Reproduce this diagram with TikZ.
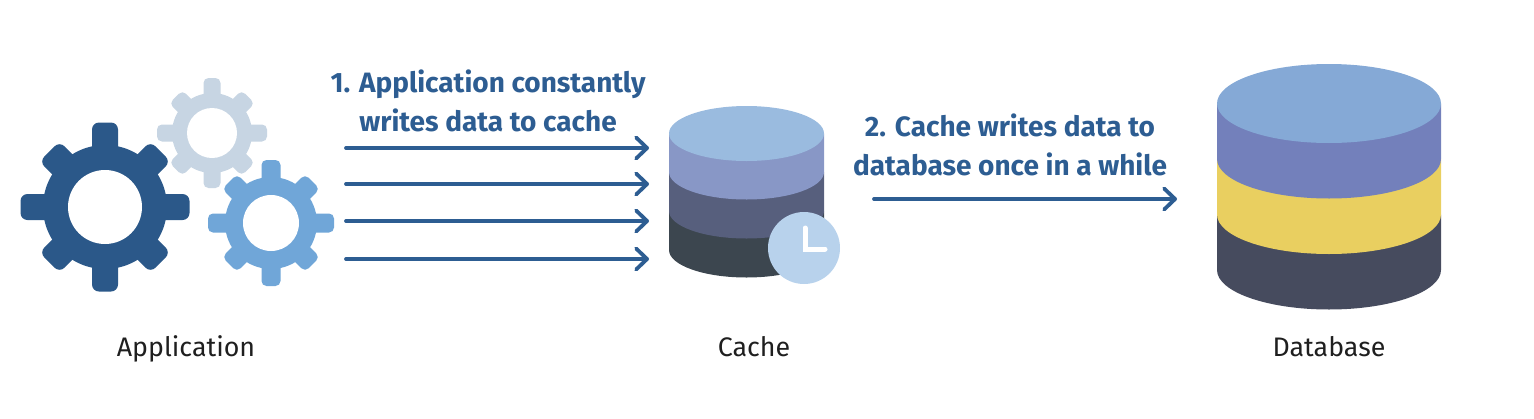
\documentclass[tikz,border=0pt]{standalone}
\usepackage{fontspec}
\setmainfont{Fira Sans}
\usetikzlibrary{arrows.meta}
\definecolor{arrowblue}{HTML}{2D5D92}
\definecolor{geardark}{HTML}{2B5889}
\definecolor{geargray}{HTML}{C7D5E3}
\definecolor{gearblue}{HTML}{70A6D8}
\definecolor{cacheA}{HTML}{9ABBDF}
\definecolor{cacheB}{HTML}{8897C6}
\definecolor{cacheC}{HTML}{575F7D}
\definecolor{cacheD}{HTML}{3C464F}
\definecolor{clockface}{HTML}{B8D2EC}
\definecolor{dbA}{HTML}{85A9D6}
\definecolor{dbB}{HTML}{7380BB}
\definecolor{dbC}{HTML}{E9CF60}
\definecolor{dbD}{HTML}{464B5E}
\tikzset{
  flow/.style={draw=arrowblue,line width=3.8pt,line cap=round,-{Straight Barb[length=11pt,width=21pt,line cap=round,round]}},
  steplabel/.style={text=arrowblue,font=\fontsize{28}{39}\selectfont\bfseries,align=center,inner sep=0pt},
  partlabel/.style={text=black!88,anchor=base,font=\fontsize{26.8}{30}\selectfont,inner sep=0pt},
  pics/gear/.style n args={6}{code={% body, hole, tooth out, tooth width, corner, colour
    \fill[white] (0,0) circle[radius=#1+1.5];
    \foreach \a in {45,135,225,315}{
      \fill[white,rotate=\a,rounded corners=#5] (-#4*0.55-1.5,0) rectangle (#4*0.55+1.5,#3*0.93+1.5);
    }
    \foreach \a in {0,90,180,270}{
      \fill[white,rotate=\a,rounded corners=#5] (-#4/2-1.5,0) rectangle (#4/2+1.5,#3+1.5);
    }
    \foreach \a in {45,135,225,315}{
      \fill[#6,rotate=\a,rounded corners=#5] (-#4*0.55,0) rectangle (#4*0.55,#3*0.93);
    }
    \foreach \a in {0,90,180,270}{
      \fill[#6,rotate=\a,rounded corners=#5] (-#4/2,0) rectangle (#4/2,#3);
    }
    \fill[#6] (0,0) circle[radius=#1];
    \fill[white] (0,0) circle[radius=#2];
  }}
}
% cylinder slice: cx, rx, ry, centre y of its top, height, colour
\newcommand{\dbslice}[6]{%
  \fill[#6] (#1-#2,#4) -- (#1-#2,#4+#5) arc[start angle=180,end angle=0,x radius=#2,y radius=#3]
     -- (#1+#2,#4) -- cycle;
}
\begin{document}
\begin{tikzpicture}[x=1pt,y=-1pt]
\useasboundingbox (0,0) rectangle (1534,418);
\pic at (212,133) {gear={40}{25}{55}{17}{5}{geargray}};
\pic at (105,207) {gear={62}{37}{84.5}{26}{7}{geardark}};
\pic at (271,223) {gear={46}{28}{63}{19}{5}{gearblue}};
\node[partlabel] (app) at (186,356) {Application};
% cache
\dbslice{746.5}{77.5}{27.5}{211}{39}{cacheD}
\dbslice{746.5}{77.5}{27.5}{172}{39}{cacheC}
\dbslice{746.5}{77.5}{27.5}{133.5}{38.5}{cacheB}
\fill[cacheA] (746.5,133.5) ellipse[x radius=77.5,y radius=27.5];
\node[circle,fill=clockface,minimum size=72pt,inner sep=0pt] (clock) at (804,248) {};
\draw[white,line width=5pt,line cap=round] (805,228) -- (805,249) -- (825,249);
\node[partlabel] (cache) at (754,356) {Cache};
% database
\dbslice{1329}{112}{39.5}{214.5}{55.5}{dbD}
\dbslice{1329}{112}{39.5}{159}{55.5}{dbC}
\dbslice{1329}{112}{39.5}{103.5}{55.5}{dbB}
\fill[dbA] (1329,103.5) ellipse[x radius=112,y radius=39.5];
\node[partlabel] (db) at (1329,356) {Database};
% labels
\node[steplabel] (one) at (488,100.5) {1. Application constantly\\writes data to cache};
\node[steplabel] (two) at (1010,144.5) {2. Cache writes data to\\database once in a while};
% connectors
\foreach \n/\y in {a/148,b/184,c/221,d/259}{
  \coordinate (\n s) at (346,\y);
  \coordinate (\n e) at (649,\y);
  \draw[flow] (\n s) -- (\n e);
}
\coordinate (es) at (874,199);
\coordinate (ee) at (1177,199);
\draw[flow] (es) -- (ee);
\end{tikzpicture}
\end{document}
